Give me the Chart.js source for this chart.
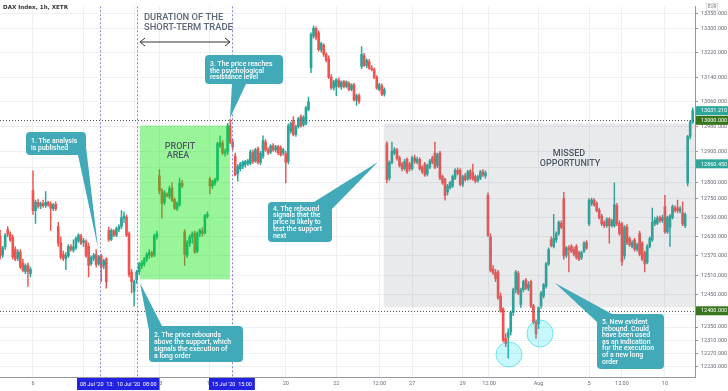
<!DOCTYPE html>
<html><head><meta charset="utf-8">
<script src="https://cdn.jsdelivr.net/npm/chart.js@4.4.1/dist/chart.umd.min.js"></script>
<style>html,body{margin:0;padding:0;background:#fff;overflow:hidden}#wrap{width:728px;height:391px;position:relative}</style>
</head><body><div id="wrap"><canvas id="c" width="728" height="391"></canvas></div>
<script>
// ---- DATA ----
const title = 'DAX Index, 1h, XETR';
const firstIndex = -13; // bar index of first candle (0 = 6 Jul 08:00)
const openP = [
12632,12572,12598,12652,12638,12628,12590,12562,12582,12548,12522,12540,12515,
12775,12712,12738,12726,12735,12728,12738,12733,12718,12732,
12662,12612,12575,12562,12570,12598,12588,12595,12618,12632,
12612,12615,12600,12545,12562,12575,12545,12570,12540,12560,
12650,12622,12648,12635,12652,12662,12688,12692,12640,12520,
12460,12495,12520,12540,12545,12560,12572,12580,12572,12630,
12822,12775,12738,12765,12758,12783,12748,12718,12730,12800,
12645,12572,12610,12628,12642,12585,12640,12648,12642,12694,
12812,12790,12800,12810,12918,12928,12895,12900,12982,12930,
12885,12828,12845,12852,12858,12862,12862,12898,12870,12908,
12865,12885,12930,12905,12898,12918,12905,12915,12912,12895,
12893,12868,12965,12998,12955,12980,13012,12985,12990,13035,
13170,13275,13300,13285,13230,13245,13215,13200,13140,13105,
13110,13130,13108,13125,13110,13120,13100,13115,13065,13080,
13175,13210,13178,13190,13170,13165,13140,13100,13112,13085,
12925,12815,12865,12895,12905,12880,12860,12845,12875,12860,
12845,12880,12865,12875,12850,12860,12828,12850,12880,12895,
12855,12895,12820,12810,12770,12785,12790,12815,12840,12840,
12795,12822,12812,12838,12832,12820,12808,12815,12835,12822,
12760,12630,12530,12518,12520,12445,12405,12315,12318,12335,
12395,12465,12515,12420,12465,12495,12470,12490,12415,12365,
12360,12415,12445,12475,12545,12620,12600,12620,12640,12672,
12750,12572,12595,12600,12590,12600,12580,12565,12585,12612,
12670,12735,12745,12735,12714,12695,12675,12665,12685,12665,
12665,12728,12672,12670,12570,12660,12625,12600,12620,12590,
12640,12610,12580,12550,12600,12620,12670,12672,12690,12680,
12725,12645,12660,12690,12720,12722,12710,12705,12665,12800,
12948,12995
];
const highP = [
12650,12600,12640,12662,12645,12635,12598,12590,12590,12560,12545,12548,12535,
12838,12745,12748,12740,12745,12772,12742,12740,12735,12740,
12675,12630,12585,12580,12605,12605,12620,12630,12640,12638,
12625,12620,12610,12570,12578,12590,12572,12575,12560,12565,
12660,12655,12652,12660,12668,12712,12708,12698,12645,12528,
12495,12525,12550,12555,12565,12580,12590,12585,12638,12648,
12842,12782,12775,12768,12790,12800,12752,12740,12815,12808,
12652,12618,12635,12645,12648,12645,12655,12658,12700,12708,
12818,12808,12815,12930,12950,12935,12908,12990,13003,12940,
12895,12858,12865,12870,12872,12875,12905,12905,12910,12915,
12900,12950,12938,12912,12922,12925,12920,12920,12918,12910,
12900,12988,12995,13012,12985,13010,13018,13015,13045,13075,
13285,13308,13305,13292,13255,13250,13220,13210,13148,13130,
13135,13138,13128,13130,13128,13125,13118,13120,13085,13086,
13240,13218,13200,13198,13178,13170,13145,13120,13118,13105,
12932,12870,12930,12912,12910,12885,12865,12875,12880,12865,
12885,12888,12882,12880,12855,12865,12860,12875,12885,12930,
12895,12900,12825,12815,12795,12805,12825,12845,12848,12845,
12825,12830,12840,12842,12860,12825,12825,12840,12842,12838,
12768,12638,12540,12528,12525,12455,12410,12330,12345,12400,
12470,12525,12522,12470,12495,12500,12490,12495,12420,12372,
12412,12460,12485,12550,12595,12630,12700,12645,12680,12680,
12770,12600,12602,12605,12598,12605,12585,12585,12615,12618,
12750,12752,12750,12740,12720,12700,12680,12690,12690,12685,
12800,12735,12680,12675,12665,12668,12630,12618,12625,12610,
12648,12615,12585,12605,12630,12720,12690,12695,12695,12698,
12760,12695,12700,12730,12728,12745,12725,12740,12705,12952,
13000,13040
];
const lowP = [
12560,12565,12590,12630,12615,12560,12555,12555,12530,12520,12515,12475,12505,
12700,12672,12720,12718,12722,12722,12725,12650,12712,12712,
12600,12560,12555,12527,12565,12585,12582,12590,12612,12605,
12600,12565,12505,12540,12555,12535,12540,12490,12530,12470,
12615,12618,12630,12630,12645,12655,12675,12630,12505,12455,
12415,12485,12512,12530,12538,12552,12562,12565,12568,12622,
12765,12688,12730,12755,12750,12740,12715,12712,12725,12785,
12540,12565,12600,12610,12578,12580,12630,12632,12638,12688,
12765,12782,12792,12805,12912,12890,12885,12890,12925,12905,
12822,12805,12838,12845,12850,12855,12858,12862,12865,12860,
12858,12878,12900,12890,12892,12900,12898,12890,12885,12888,
12800,12860,12958,12950,12948,12975,12978,12980,12985,13030,
13155,13268,13262,13225,13222,13208,13190,13135,13100,13098,
13080,13105,13100,13105,13105,13095,13095,13062,13048,13055,
13168,13175,13170,13165,13160,13135,13100,13095,13080,13078,
12800,12808,12860,12890,12872,12850,12838,12840,12830,12838,
12840,12862,12860,12840,12830,12820,12822,12845,12860,12845,
12848,12810,12795,12745,12762,12780,12785,12810,12825,12790,
12788,12805,12808,12810,12808,12800,12802,12810,12820,12815,
12630,12520,12512,12490,12435,12395,12305,12290,12255,12325,
12385,12455,12450,12410,12458,12465,12462,12410,12360,12315,
12345,12408,12440,12470,12540,12598,12595,12612,12635,12655,
12560,12565,12520,12580,12570,12560,12555,12558,12580,12590,
12665,12728,12725,12708,12685,12665,12658,12660,12610,12660,
12660,12665,12635,12540,12560,12605,12600,12595,12585,12585,
12570,12555,12520,12545,12595,12615,12665,12668,12675,12675,
12640,12640,12600,12685,12708,12705,12705,12665,12658,12790,
12940,12990
];
const closeP = [
12570,12595,12635,12638,12620,12567,12560,12582,12536,12525,12540,12522,12528,
12712,12738,12726,12735,12728,12738,12730,12720,12730,12718,
12610,12566,12562,12572,12600,12590,12598,12625,12635,12610,
12618,12570,12540,12565,12572,12543,12568,12535,12555,12490,
12620,12650,12635,12655,12662,12690,12695,12635,12512,12490,
12490,12520,12545,12548,12560,12575,12580,12570,12633,12640,
12775,12735,12768,12758,12782,12745,12720,12735,12798,12790,
12575,12612,12630,12640,12582,12640,12650,12640,12696,12700,
12790,12805,12810,12925,12928,12895,12900,12982,12930,12915,
12825,12852,12860,12866,12868,12870,12898,12868,12905,12865,
12895,12935,12905,12895,12918,12905,12915,12895,12890,12905,
12865,12982,12990,12955,12980,13005,12982,13010,13040,13060,
13280,13300,13270,13230,13250,13215,13195,13140,13105,13125,
13132,13110,13125,13110,13125,13100,13115,13065,13080,13060,
13215,13178,13195,13170,13165,13140,13105,13115,13085,13100,
12810,12865,12900,12905,12878,12855,12845,12868,12835,12845,
12880,12868,12875,12845,12835,12825,12855,12870,12865,12850,
12890,12815,12800,12760,12790,12800,12820,12840,12830,12795,
12820,12810,12835,12815,12812,12805,12820,12835,12825,12832,
12635,12525,12518,12500,12440,12400,12310,12300,12334,12395,
12465,12520,12455,12465,12490,12470,12482,12415,12365,12330,
12410,12455,12480,12545,12590,12602,12625,12640,12675,12660,
12570,12595,12590,12585,12575,12565,12560,12580,12610,12595,
12745,12745,12730,12712,12690,12670,12665,12685,12665,12680,
12730,12670,12640,12552,12660,12612,12605,12612,12590,12605,
12575,12560,12545,12600,12625,12675,12682,12688,12680,12690,
12645,12690,12695,12725,12712,12712,12718,12670,12700,12948,
12995,13031.21
];
const xTickIdx    = [0, 20, 40, 50, 70, 100, 120, 137, 150, 170, 180.4, 200, 220, 233, 250];
const xTickLabels = ['6','8','10','13','15','20','22','12:00','27','29','12:00','Aug','5','12:00','10'];
const yTicks = [13350,13300,13220,13140,13060,12980,12900,12850,12800,12750,12690,12630,12570,12510,12450,12390,12350,12310,12270,12230];
const resistanceLevel = 13000, supportLevel = 12400;
const lastPrice = 13031.21, refPrice = 12860.45;
const markerIdx = [26.5, 41, 78.7];
const markerLabels = ["08 Jul '20  13:00", "10 Jul '20  08:00", "15 Jul '20  15:00"];
const profitZone = {from: 42.3, to: 77.9, top: 12983, bottom: 12497};
const missedZone = {from: 138.8, to: 270, top: 12990, bottom: 12411};

// ---- CONFIG / STYLE ----
const UP = '#26a69a', DOWN = '#ef5350';
const xMin = -13.05, xMax = 261.9, yMin = 12198, yMax = 13373;
const idx = openP.map((_, i) => firstIndex + i);
const colors = idx.map((_, i) => closeP[i] >= openP[i] ? UP : DOWN);

const callouts = [
  {x:26, y:132, w:60, h:23, fb:11, lh:7, tail:[[78,155],[86,147],[98,248]], lines:['1. The analysis','is published']},
  {x:149, y:326, w:94, h:36, fb:10.5, lh:7.3, tail:[[150,336],[162,326],[140,283]], lines:['2. The price rebounds','above the support, which','signals the execution of','a long order']},
  {x:205, y:55, w:78, h:29, fb:11, lh:6.5, tail:[[232,84],[246,84],[230,118]], lines:['3. The price reaches','the psychological','resistance level']},
  {x:268, y:202, w:64, h:40, fb:8.5, lh:6.8, tail:[[314,202],[332,209],[378,162]], lines:['4. The rebound','signals that the','price is likely to','test the support','next']},
  {x:597, y:314, w:67, h:55, fb:10, lh:6.6, tail:[[597,322],[612,314],[555,283]], lines:['5. New evident','rebound. Could','have been used','as an indication','for the execution','of a new long','order']}
];

const annot = {
  id: 'annot',
  afterDatasetsDraw(chart) {
    const {ctx, chartArea: a, scales: {x, y}} = chart;
    ctx.save();
    ctx.beginPath(); ctx.rect(a.left, a.top, a.right - a.left, a.bottom - a.top); ctx.clip();
    const zone = (z, c) => {
      const x0 = x.getPixelForValue(z.from), x1 = x.getPixelForValue(z.to);
      const y0 = y.getPixelForValue(z.top), y1 = y.getPixelForValue(z.bottom);
      ctx.fillStyle = c; ctx.fillRect(x0, y0, x1 - x0, y1 - y0);
    };
    zone(missedZone, 'rgba(125,128,140,0.17)');
    zone(profitZone, 'rgba(0,230,0,0.4)');
    ctx.strokeStyle = '#555'; ctx.lineWidth = 1; ctx.setLineDash([1, 2]);
    [resistanceLevel, supportLevel].forEach(v => {
      const py = Math.round(y.getPixelForValue(v)) + 0.5;
      ctx.beginPath(); ctx.moveTo(a.left, py); ctx.lineTo(a.right, py); ctx.stroke();
    });
    ctx.strokeStyle = 'rgba(110,110,215,0.85)'; ctx.setLineDash([2, 2]);
    markerIdx.forEach(v => {
      const px = Math.round(x.getPixelForValue(v)) + 0.5;
      ctx.beginPath(); ctx.moveTo(px, a.top); ctx.lineTo(px, a.bottom); ctx.stroke();
    });
    ctx.setLineDash([]);
    ctx.fillStyle = '#5d6878';
    ctx.font = '500 9.4px Roboto'; ctx.textAlign = 'left'; ctx.textBaseline = 'alphabetic';
    ctx.fillText('DURATION OF THE', 144, 19.5);
    ctx.fillText('SHORT-TERM TRADE', 144, 29.5);
    ctx.fillStyle = '#4f5a66'; ctx.font = '500 9px Roboto'; ctx.textAlign = 'center';
    ctx.fillText('PROFIT', 180, 148.5); ctx.fillText('AREA', 178, 158);
    ctx.fillText('MISSED', 569, 156); ctx.fillText('OPPORTUNITY', 570, 165.5);
    ctx.strokeStyle = '#333'; ctx.lineWidth = 1;
    ctx.beginPath();
    ctx.moveTo(140, 42); ctx.lineTo(230, 42);
    ctx.moveTo(145, 38); ctx.lineTo(140, 42); ctx.lineTo(145, 46);
    ctx.moveTo(225, 38); ctx.lineTo(230, 42); ctx.lineTo(225, 46);
    ctx.stroke();
    [[509, 354.5, 13, 12.5], [540, 333.5, 13, 13.5]].forEach(e => {
      ctx.beginPath(); ctx.ellipse(e[0], e[1], e[2], e[3], 0, 0, Math.PI * 2);
      ctx.fillStyle = 'rgba(0,225,235,0.22)'; ctx.fill();
      ctx.strokeStyle = 'rgba(0,200,220,0.6)'; ctx.lineWidth = 0.8; ctx.stroke();
    });
    callouts.forEach(c => {
      ctx.fillStyle = '#42a9b8';
      ctx.beginPath(); ctx.roundRect(c.x, c.y, c.w, c.h, 4); ctx.fill();
      ctx.beginPath(); ctx.moveTo(c.tail[0][0], c.tail[0][1]); ctx.lineTo(c.tail[1][0], c.tail[1][1]); ctx.lineTo(c.tail[2][0], c.tail[2][1]); ctx.closePath(); ctx.fill();
      ctx.fillStyle = '#fff'; ctx.font = '500 6.9px Roboto'; ctx.textAlign = 'left';
      c.lines.forEach((t, i) => ctx.fillText(t, c.x + 5, c.y + c.fb + i * c.lh));
    });
    ctx.restore();
  },
  afterDraw(chart) {
    const {ctx, chartArea: a, scales: {x, y}} = chart;
    ctx.save();
    ctx.fillStyle = '#333'; ctx.font = 'bold 5.6px "DejaVu Sans"'; ctx.textAlign = 'left'; ctx.textBaseline = 'middle';
    ctx.fillText(title, 3, 7.5);
    const tag = (v, bg) => {
      const py = y.getPixelForValue(v);
      ctx.fillStyle = bg; ctx.fillRect(a.right + 1, py - 4.5, 33, 9);
      ctx.fillStyle = '#fff'; ctx.font = '5.5px Roboto'; ctx.textAlign = 'left'; ctx.textBaseline = 'middle';
      ctx.fillText(v.toFixed(3), a.right + 6, py + 0.3);
    };
    tag(lastPrice, '#2fa69a'); tag(resistanceLevel, '#38761d'); tag(refPrice, '#2fa69a'); tag(supportLevel, '#38761d');
    ctx.fillStyle = '#fff'; ctx.fillRect(706, 3, 12, 8);
    ctx.strokeStyle = '#c8cad0'; ctx.lineWidth = 0.6; ctx.strokeRect(706.3, 3.3, 11.4, 7.4);
    ctx.fillStyle = '#777'; ctx.font = '4.6px Roboto'; ctx.textAlign = 'center'; ctx.fillText('EUR', 712, 7.3);
    ctx.font = '5.5px Roboto'; ctx.textBaseline = 'middle';
    markerIdx.forEach((v, i) => {
      const px = x.getPixelForValue(v);
      const w = ctx.measureText(markerLabels[i]).width + 6;
      ctx.fillStyle = '#2222e2'; ctx.fillRect(px - w / 2, a.bottom + 1, w, 12);
      ctx.fillStyle = '#fff'; ctx.textAlign = 'center'; ctx.fillText(markerLabels[i], px, a.bottom + 7.3);
    });
    ctx.restore();
  }
};

new Chart(document.getElementById('c'), {
  type: 'bar',
  data: {
    datasets: [
      {data: idx.map((v, i) => ({x: v, y: [openP[i], closeP[i]]})), backgroundColor: colors, barThickness: 2, minBarLength: 1, grouped: false},
      {data: idx.map((v, i) => ({x: v, y: [lowP[i], highP[i]]})), backgroundColor: colors, barThickness: 0.8, grouped: false}
    ]
  },
  options: {
    responsive: false, animation: false, devicePixelRatio: 1,
    layout: {padding: 0},
    plugins: {legend: {display: false}, tooltip: {enabled: false}},
    scales: {
      x: {
        type: 'linear', min: xMin, max: xMax, offset: false,
        grid: {color: '#eef0f4', offset: false, drawTicks: false},
        border: {color: '#9598a1'},
        afterBuildTicks: s => { s.ticks = xTickIdx.map(v => ({value: v})); },
        afterFit: s => { s.height = 14; },
        ticks: {autoSkip: false, maxRotation: 0, padding: 3, color: '#6a6d78', font: {size: 5.5, family: 'Roboto'},
                callback: (v, i) => xTickLabels[i]}
      },
      y: {
        type: 'logarithmic', position: 'right', min: yMin, max: yMax,
        grid: {color: '#eef0f4', tickLength: 3, tickColor: '#9598a1'},
        border: {color: '#9598a1'},
        afterBuildTicks: s => { s.ticks = yTicks.map(v => ({value: v})); },
        afterFit: s => { s.width = 33; },
        ticks: {autoSkip: false, padding: 3, color: '#6a6d78', font: {size: 5.5, family: 'Roboto'},
                callback: v => Number(v).toFixed(3)}
      }
    }
  },
  plugins: [annot]
});
</script></body></html>
